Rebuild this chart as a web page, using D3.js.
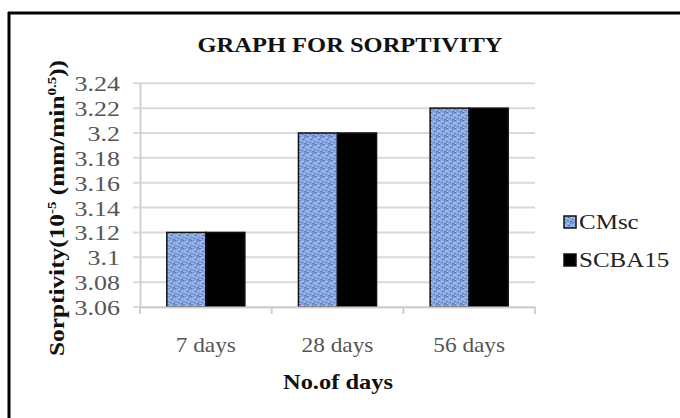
<!DOCTYPE html>
<html>
<head>
<meta charset="utf-8">
<script src="https://cdn.jsdelivr.net/npm/d3@7"></script>
<style>
  html, body { margin: 0; padding: 0; background: #fff; }
  svg { display: block; }
  text { font-family: "Liberation Serif", "DejaVu Serif", serif; }
</style>
</head>
<body>
<svg id="chart" width="680" height="418"></svg>
<script>
// Sorptivity by curing age for the two mixes
const categories = ["7 days", "28 days", "56 days"];
const seriesNames = ["CMsc", "SCBA15"];
const cmscValues = [3.12, 3.20, 3.22];
const scba15Values = [3.12, 3.20, 3.22];
const yTicks = [3.06, 3.08, 3.1, 3.12, 3.14, 3.16, 3.18, 3.2, 3.22, 3.24];
const yTickLabels = ["3.06", "3.08", "3.1", "3.12", "3.14", "3.16", "3.18", "3.2", "3.22", "3.24"];

const series = [cmscValues, scba15Values];

const svg = d3.select("#chart");
const W = 680, H = 418;
const plot = { left: 140, right: 535, top: 83.3, bottom: 307 };

// speckled blue texture for the CMsc bars
const defs = svg.append("defs");
const pat = defs.append("pattern")
  .attr("id", "speckle")
  .attr("patternUnits", "userSpaceOnUse")
  .attr("width", 8).attr("height", 8);
pat.append("rect").attr("width", 8).attr("height", 8).attr("fill", "#87a6df");
const specks = [
  [0, 0, 2, 1, "#5574b6"], [3, 1, 2, 1, "#b8ccf1"], [6, 0, 1, 2, "#5f7fc0"],
  [1, 2, 1, 2, "#a9c0ee"], [4, 3, 2, 1, "#5574b6"], [7, 3, 1, 1, "#c2d3f3"],
  [0, 5, 2, 1, "#6a89c9"], [2, 4, 1, 1, "#c2d3f3"], [5, 5, 1, 2, "#b0c6ef"],
  [3, 6, 2, 1, "#5b7bbd"], [6, 7, 2, 1, "#5574b6"], [1, 7, 1, 1, "#a9c0ee"]
];
specks.forEach(s => pat.append("rect")
  .attr("x", s[0]).attr("y", s[1]).attr("width", s[2]).attr("height", s[3])
  .attr("fill", s[4]));

const fills = ["url(#speckle)", "#000"];

// frame (top and left edges)
svg.append("line").attr("x1", 8).attr("x2", W).attr("y1", 13).attr("y2", 13)
  .attr("stroke", "#000").attr("stroke-width", 3);
svg.append("line").attr("x1", 9).attr("x2", 9).attr("y1", 12).attr("y2", H)
  .attr("stroke", "#000").attr("stroke-width", 3);

const x = d3.scaleBand().domain(categories)
  .range([plot.left, plot.right]).paddingInner(0.407).paddingOuter(0.2035);
const xs = d3.scaleBand().domain(seriesNames).range([0, x.bandwidth()]);
const y = d3.scaleLinear().domain([3.06, 3.24]).range([plot.bottom, plot.top]);

// gridlines
svg.append("g").selectAll("line").data(yTicks).join("line")
  .attr("x1", plot.left - 7).attr("x2", plot.right)
  .attr("y1", d => y(d)).attr("y2", d => y(d))
  .attr("stroke", "#d9d9d9").attr("stroke-width", 2);

// y axis
const yAxis = svg.append("g").attr("transform", `translate(${plot.left},0)`)
  .call(d3.axisLeft(y).tickValues(yTicks).tickSize(0).tickPadding(17)
    .tickFormat((d, i) => yTickLabels[i]));
yAxis.attr("font-family", null);
yAxis.select(".domain").attr("stroke", "#d0d0d0").attr("stroke-width", 2);
yAxis.selectAll("text").attr("font-size", 22).attr("fill", "#555")
  .attr("dy", "0.34em").attr("transform", "scale(1.18,1)");

// bars
const groups = svg.append("g").selectAll("g").data(categories).join("g")
  .attr("transform", d => `translate(${x(d)},0)`);
groups.selectAll("rect")
  .data((c, i) => series.map((s, k) => ({ name: seriesNames[k], value: s[i], k })))
  .join("rect")
  .attr("x", d => xs(d.name)).attr("width", xs.bandwidth())
  .attr("y", d => y(d.value)).attr("height", d => y(3.06) - y(d.value))
  .attr("fill", d => fills[d.k])
  .attr("stroke", "#111").attr("stroke-width", 1.5);

// x axis
const xAxis = svg.append("g").attr("transform", `translate(0,${plot.bottom})`)
  .call(d3.axisBottom(x).tickSize(0).tickPadding(29));
xAxis.attr("font-family", null);
xAxis.select(".domain").attr("stroke", "#d0d0d0").attr("stroke-width", 2);
xAxis.selectAll("text").attr("font-size", 22).attr("fill", "#555")
  .attr("transform", "scale(1.06,1)");
// category separators
const bounds = [plot.left].concat(categories.map(c => x(c) + x.bandwidth() + x.step() * 0.2035));
svg.append("g").selectAll("line").data(bounds).join("line")
  .attr("x1", d => d).attr("x2", d => d)
  .attr("y1", plot.bottom).attr("y2", plot.bottom + 7)
  .attr("stroke", "#d0d0d0").attr("stroke-width", 2);

// titles
svg.append("text").attr("x", 350).attr("y", 52).attr("text-anchor", "middle")
  .attr("font-size", 21).attr("font-weight", "bold").attr("fill", "#111")
  .attr("textLength", 305).attr("lengthAdjust", "spacingAndGlyphs")
  .text("GRAPH FOR SORPTIVITY");

svg.append("text").attr("x", 338).attr("y", 389).attr("text-anchor", "middle")
  .attr("font-size", 21).attr("font-weight", "bold").attr("fill", "#111")
  .attr("textLength", 110).attr("lengthAdjust", "spacingAndGlyphs")
  .text("No.of days");

const yt = svg.append("text")
  .attr("transform", "translate(64,208) rotate(-90)")
  .attr("text-anchor", "middle")
  .attr("font-size", 22).attr("font-weight", "bold").attr("fill", "#111")
  .attr("textLength", 296).attr("lengthAdjust", "spacingAndGlyphs");
yt.append("tspan").text("Sorptivity(10");
yt.append("tspan").attr("font-size", 13).attr("dy", -8).text("-5");
yt.append("tspan").attr("dy", 8).text(" (mm/min");
yt.append("tspan").attr("font-size", 13).attr("dy", -8).text("0.5");
yt.append("tspan").attr("dy", 8).text("))");

// legend
const legend = svg.append("g").selectAll("g").data(seriesNames).join("g")
  .attr("transform", (d, i) => `translate(564,${222 + i * 38})`);
legend.append("rect").attr("x", 0).attr("y", -6).attr("width", 12).attr("height", 12)
  .attr("fill", (d, i) => fills[i]).attr("stroke", "#111").attr("stroke-width", 1.5);
legend.append("text").attr("x", 12).attr("y", 7)
  .attr("font-size", 20).attr("fill", "#222")
  .attr("transform", "scale(1.25,1)")
  .text(d => d);
</script>
</body>
</html>
